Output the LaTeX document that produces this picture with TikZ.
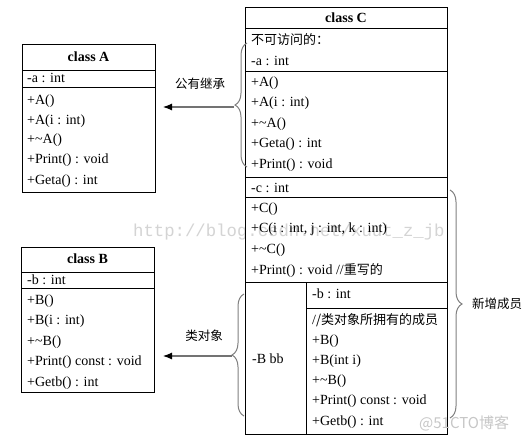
\documentclass[tikz,border=0pt]{standalone}
\usepackage{fontspec}
\setmainfont{Liberation Serif}
\newfontfamily\cjk{Noto Sans CJK SC}
\newfontfamily\wmfont{Liberation Mono}
\usetikzlibrary{arrows.meta,decorations.pathreplacing}
\begin{document}
\begin{tikzpicture}[x=1pt,y=-1pt,
  box/.style={draw=black,line width=0.9pt},
  sep/.style={draw=black,line width=0.9pt},
  row/.style={anchor=west,inner sep=0pt,font=\fontsize{14}{16}\selectfont},
  ttl/.style={inner sep=0pt,font=\fontsize{14}{16}\selectfont\bfseries},
  lbl/.style={inner sep=0pt,font=\cjk\fontsize{12.5}{14}\selectfont},
  arr/.style={draw=black!55,line width=1.1pt,-{Latex[length=9pt,width=7pt,color=black]}},
  brc/.style={draw=black!50,line width=1pt,decorate,decoration={brace,amplitude=12pt,aspect=0.5}},
  wm/.style={inner sep=0pt,text=black!17}]
\useasboundingbox (0,0) rectangle (526,442);
\fill[white] (0,0) rectangle (526,442);

% watermark (behind)
\node[wm,font=\wmfont\fontsize{17.3}{18}\selectfont,anchor=west] (wm1) at (133,232) {http://blog.csdn.net/xuut\_z\_jb};

% ---------- class A ----------
\draw[box] (22,44) rectangle (155,192);
\coordinate (Aeast) at (155,107);
\draw[sep] (22,70) -- (155,70);
\draw[sep] (22,87) -- (155,87);
\node[ttl] (At) at (88.5,57) {class A};
\node[row] (A1) at (27,78) {-a : int};
\node[row] (A2) at (27,101) {+A()};
\node[row] (A3) at (27,121) {+A(i : int)};
\node[row] (A4) at (27,140) {+\char`\~A()};
\node[row] (A5) at (27,160) {+Print() : void};
\node[row] (A6) at (27,181) {+Geta() : int};

% ---------- class B ----------
\draw[box] (21,247) rectangle (154,392);
\coordinate (Beast) at (154,356);
\draw[sep] (21,272) -- (154,272);
\draw[sep] (21,288) -- (154,288);
\node[ttl] (Bt) at (87.5,259) {class B};
\node[row] (B1) at (27,280) {-b : int};
\node[row] (B2) at (27,301) {+B()};
\node[row] (B3) at (27,321) {+B(i : int)};
\node[row] (B4) at (27,342) {+\char`\~B()};
\node[row] (B5) at (27,362) {+Print() const : void};
\node[row] (B6) at (27,383) {+Getb() : int};

% ---------- class C ----------
\draw[box] (245,7) rectangle (447,434);
\draw[sep] (245,28) -- (447,28);
\draw[sep] (245,71) -- (447,71);
\draw[sep] (245,177) -- (447,177);
\draw[sep] (245,197) -- (447,197);
\draw[sep] (245,282) -- (447,282);
\draw[sep] (306,282) -- (306,434);
\draw[sep] (306,308) -- (447,308);
\node[ttl] (Ct) at (346,18) {class C};
\node[row,font=\cjk\fontsize{13}{15}\selectfont] (C1) at (251,40) {不可访问的：};
\node[row] (C2) at (251,61) {-a : int};
\node[row] (C3) at (251,83) {+A()};
\node[row] (C4) at (251,103) {+A(i : int)};
\node[row] (C5) at (251,124) {+\char`\~A()};
\node[row] (C6) at (251,144) {+Geta() : int};
\node[row] (C7) at (251,165) {+Print() : void};
\node[row] (C8) at (251,188) {-c : int};
\node[row] (C9) at (251,209) {+C()};
\node[row] (C10) at (251,229) {+C(i : int, j : int, k : int)};
\node[row] (C11) at (251,250) {+\char`\~C()};
\node[row] (C12) at (251,270) {+Print() : void //{\cjk\fontsize{13}{15}\selectfont 重写的}};
\node[row] (C13) at (252,359) {-B bb};
\node[row] (C14) at (312,294) {-b : int};
\node[row] (C15) at (312,320) {/{\cjk\fontsize{13}{15}\selectfont /类对象所拥有的成员}};
\node[row] (C16) at (312,341) {+B()};
\node[row] (C17) at (312,361) {+B(int i)};
\node[row] (C18) at (312,381) {+\char`\~B()};
\node[row] (C19) at (312,401) {+Print() const : void};
\node[row] (C20) at (312,422) {+Getb() : int};

% ---------- braces ----------
\draw[brc] (247,167) -- (247,43);
\coordinate (tipA) at (234,107);
\draw[brc] (244,416) -- (244,294);
\coordinate (tipB) at (232,356);
\draw[brc] (450,190) -- (450,418);

% ---------- connectors ----------
\draw[arr,shorten >=8pt] (tipA) -- (Aeast);
\draw[arr,shorten >=9pt] (tipB) -- (Beast);

% ---------- labels ----------
\node[lbl] (L1) at (200,84) {公有继承};
\node[lbl] (L2) at (204,336) {类对象};
\node[lbl] (L3) at (497,304) {新增成员};

% bottom watermark
\node[wm,font=\cjk\fontsize{15}{16}\selectfont,anchor=west,text=black!22] (wm2) at (419,423) {@51CTO博客};
\end{tikzpicture}
\end{document}
